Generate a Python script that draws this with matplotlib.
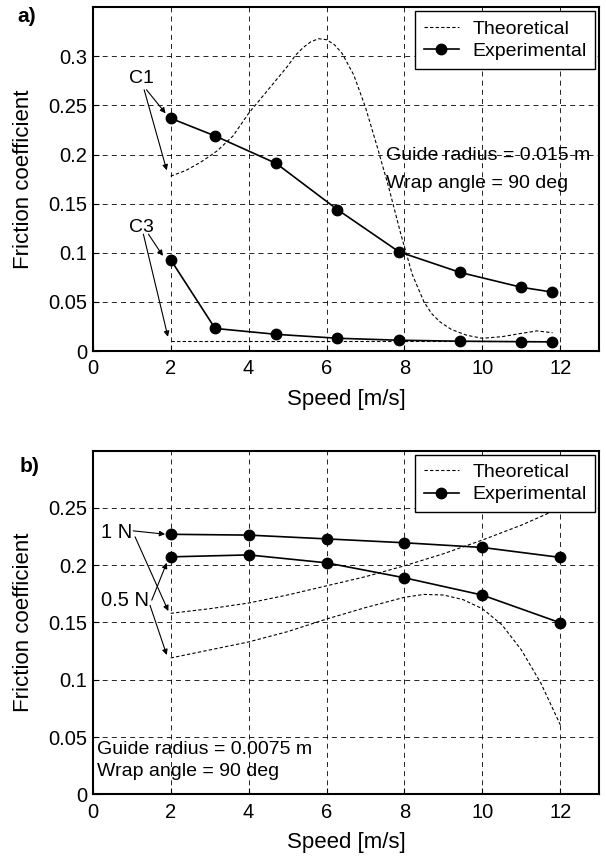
# coefficient de frottement vs vitesse, deux cas (a et b)

import numpy as np
import matplotlib
matplotlib.use('Agg')  # pas d'affichage
import matplotlib.pyplot as plt

plt.rcParams['font.family'] = ['Liberation Sans', 'DejaVu Sans']

# --- données panneau a)
vit_exp_a = [2.0, 3.14, 4.71, 6.28, 7.86, 9.43, 10.99, 11.79]
c1_exp = [0.237, 0.219, 0.191, 0.144, 0.101, 0.080, 0.065, 0.060]
c3_exp = [0.093, 0.023, 0.017, 0.013, 0.011, 0.010, 0.0095, 0.0093]

vit_th_c1 = [2.0, 2.4, 2.8, 3.2, 3.6, 4.0, 4.5, 5.0, 5.2, 5.4, 5.6, 5.8,
             6.0, 6.2, 6.4, 6.7, 7.0, 7.3, 7.6, 7.9, 8.2, 8.5, 8.7, 8.9,
             9.2, 9.6, 10.0, 10.5, 11.0, 11.4, 11.8]
c1_th = [0.178, 0.184, 0.193, 0.204, 0.219, 0.242, 0.266, 0.290, 0.301,
         0.309, 0.315, 0.318, 0.317, 0.312, 0.303, 0.281, 0.248, 0.208,
         0.166, 0.120, 0.078, 0.050, 0.038, 0.030, 0.022, 0.016, 0.013,
         0.0146, 0.018, 0.0205, 0.0186]

vit_th_c3 = [2.0, 11.8]
c3_th = [0.0105, 0.0105]

# --- données panneau b)
vit_exp_b = [2, 4, 6, 8, 10, 12]
n1_exp = [0.227, 0.2263, 0.223, 0.2196, 0.2155, 0.2068]
n05_exp = [0.2073, 0.209, 0.2021, 0.189, 0.1739, 0.1497]

vit_th_n1 = [2, 3, 4, 5, 6, 7, 8, 9, 10, 11, 12]
n1_th = [0.158, 0.162, 0.167, 0.174, 0.182, 0.190, 0.1995, 0.210,
         0.222, 0.235, 0.250]

vit_th_n05 = [2, 3, 4, 5, 6, 7, 8, 8.5, 9, 9.5, 10, 10.5, 11, 11.5, 12]
n05_th = [0.119, 0.126, 0.133, 0.142, 0.153, 0.163, 0.172, 0.1745,
          0.174, 0.170, 0.162, 0.148, 0.126, 0.097, 0.0605]

xticks = [0, 2, 4, 6, 8, 10, 12]
yticks_a = [0, 0.05, 0.1, 0.15, 0.2, 0.25, 0.3]
yticks_b = [0, 0.05, 0.1, 0.15, 0.2, 0.25]

th_style = dict(color='k', lw=0.8, ls=(0, (3, 2)))
exp_style = dict(color='k', lw=1.2, marker='o', ms=7.5)
arrow = dict(arrowstyle='-|>', color='k', lw=0.8, mutation_scale=8,
             shrinkA=0, shrinkB=0)


def habiller(ax, ylim, yticks):
    ax.set_xlim(0, 13)
    ax.set_ylim(*ylim)
    ax.set_xticks(xticks)
    ax.set_yticks(yticks)
    ax.set_yticklabels([f"{v:g}" for v in yticks])
    ax.tick_params(direction='in', length=4, labelsize=14.5)
    ax.tick_params(axis='x', pad=6)
    ax.tick_params(axis='y', pad=4)
    ax.grid(True, color='k', lw=0.6, ls=(0, (6, 5)))
    for s in ax.spines.values():
        s.set_linewidth(1.5)
    ax.set_xlabel('Speed [m/s]', fontsize=16)
    ax.set_ylabel('Friction coefficient', fontsize=16)
    ax.xaxis.set_label_coords(0.5, -0.14)
    ax.xaxis.label.set_va('center')
    ax.yaxis.set_label_coords(-0.137, 0.5)
    ax.yaxis.label.set_va('center')
    leg = ax.legend(loc='upper right', fontsize=14, handlelength=1.8,
                    borderaxespad=0.2, fancybox=False, framealpha=1,
                    edgecolor='k', borderpad=0.45, labelspacing=0.25,
                    handletextpad=0.7)
    leg.get_frame().set_linewidth(1.0)


fig = plt.figure(figsize=(6.06, 8.57), dpi=100)
ax1 = fig.add_axes([0.153, 0.5904, 0.836, 0.4011])
ax2 = fig.add_axes([0.153, 0.0732, 0.836, 0.4009])

# panneau a
ax1.plot(vit_th_c1, c1_th, label='Theoretical', **th_style)
ax1.plot(vit_exp_a, c1_exp, label='Experimental', **exp_style)
ax1.plot(vit_th_c3, c3_th, **th_style)
ax1.plot(vit_exp_a, c3_exp, **exp_style)
habiller(ax1, (0, 0.35), yticks_a)

ax1.text(1.26, 0.277, 'C1', fontsize=14, ha='center', va='center')
ax1.annotate('', xy=(1.87, 0.242), xytext=(1.38, 0.266), arrowprops=arrow)
ax1.annotate('', xy=(1.90, 0.184), xytext=(1.32, 0.266), arrowprops=arrow)
ax1.text(1.26, 0.126, 'C3', fontsize=14, ha='center', va='center')
ax1.annotate('', xy=(1.80, 0.0969), xytext=(1.43, 0.119), arrowprops=arrow)
ax1.annotate('', xy=(1.93, 0.0145), xytext=(1.30, 0.119), arrowprops=arrow)
ax1.text(7.53, 0.1994, 'Guide radius = 0.015 m', fontsize=14, va='center')
ax1.text(7.53, 0.1706, 'Wrap angle = 90 deg', fontsize=14, va='center')

# panneau b
ax2.plot(vit_th_n1, n1_th, label='Theoretical', **th_style)
ax2.plot(vit_exp_b, n1_exp, label='Experimental', **exp_style)
ax2.plot(vit_th_n05, n05_th, **th_style)
ax2.plot(vit_exp_b, n05_exp, **exp_style)
habiller(ax2, (0, 0.3), yticks_b)

ax2.text(0.616, 0.229, '1 N', fontsize=14.5, ha='center', va='center')
ax2.annotate('', xy=(1.857, 0.2271), xytext=(1.04, 0.230), arrowprops=arrow)
ax2.annotate('', xy=(1.94, 0.160), xytext=(1.086, 0.2248), arrowprops=arrow)
ax2.text(0.83, 0.169, '0.5 N', fontsize=14.5, ha='center', va='center')
ax2.annotate('', xy=(1.90, 0.2021), xytext=(1.515, 0.1695), arrowprops=arrow)
ax2.annotate('', xy=(1.90, 0.1216), xytext=(1.47, 0.165), arrowprops=arrow)
ax2.text(0.10, 0.0387, 'Guide radius = 0.0075 m', fontsize=14, va='center')
ax2.text(0.10, 0.0197, 'Wrap angle = 90 deg', fontsize=14, va='center')

fig.text(0.044, 0.9805, 'a)', fontsize=15, fontweight='bold',
         ha='center', va='center')
fig.text(0.0495, 0.4554, 'b)', fontsize=15, fontweight='bold',
         ha='center', va='center')

plt.savefig('out.png', dpi=100)
plt.close()
